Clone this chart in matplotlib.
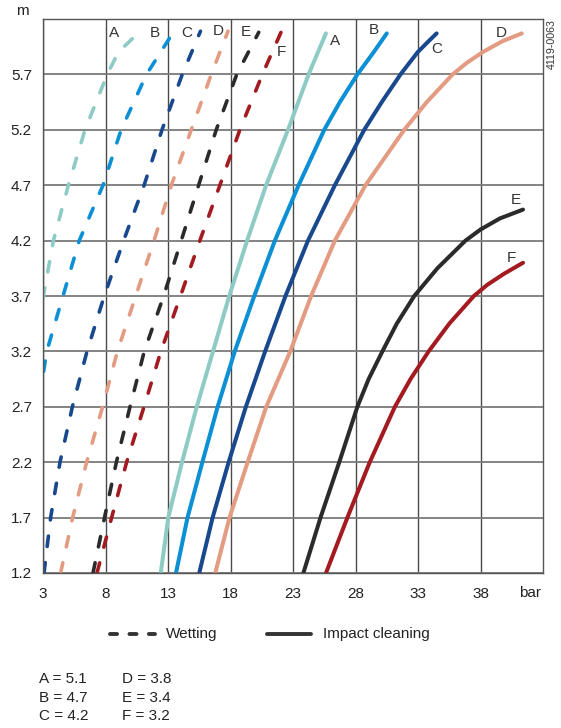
import matplotlib
matplotlib.use("Agg")
import matplotlib.pyplot as plt
from matplotlib.lines import Line2D

plt.rcParams['font.family'] = ['Liberation Sans', 'DejaVu Sans']

# nozzle names and sizes
curve_names = ['A', 'B', 'C', 'D', 'E', 'F']
nozzle_sizes = ['5.1', '4.7', '4.2', '3.8', '3.4', '3.2']
curve_colors = ['#8ecbc5', '#0b8fd5', '#18488d', '#e39b82', '#2b2b2b', '#a31a20']

grid_m = [1.2, 1.7, 2.2, 2.7, 3.2, 3.7, 4.2, 4.7, 5.2, 5.7]

# Wetting (dashed): pressure in bar vs distance in m
wet_A_bar = [3.0, 3.83, 5.03, 6.36, 8.14, 9.02, 10.22]
wet_A_m = [3.68, 4.2, 4.7, 5.2, 5.7, 5.9, 6.03]
wet_B_bar = [3.05, 3.3, 4.6, 5.9, 7.8, 9.25, 11.28, 13.42]
wet_B_m = [3.02, 3.2, 3.7, 4.2, 4.7, 5.2, 5.7, 6.08]
wet_C_bar = [3.08, 3.61, 4.36, 5.35, 6.52, 7.9, 9.45, 11.09, 12.52, 14.14, 15.6]
wet_C_m = grid_m + [6.09]
wet_D_bar = [4.41, 5.37, 6.49, 7.77, 8.95, 10.42, 11.88, 13.27, 14.86, 16.46, 17.8]
wet_D_m = grid_m + [6.09]
wet_E_bar = [7.0, 7.92, 8.87, 9.96, 11.1, 12.65, 14.06, 15.45, 16.86, 18.5, 20.26]
wet_E_m = grid_m + [6.08]
wet_F_bar = [7.32, 8.49, 9.69, 11.08, 12.43, 14.0, 15.55, 17.15, 18.75, 20.55, 22.04]
wet_F_m = grid_m + [6.08]

# Impact cleaning (solid)
imp_A_bar = [12.42, 13.02, 14.12, 15.3, 16.6, 17.9, 19.33, 20.85, 22.6, 24.25, 25.63]
imp_A_m = grid_m + [6.07]
imp_B_bar = [13.64, 14.56, 15.75, 16.97, 18.34, 19.9, 21.55, 23.45, 25.5, 26.75, 28.15, 29.45, 30.5]
imp_B_m = [1.2, 1.7, 2.2, 2.7, 3.2, 3.7, 4.2, 4.7, 5.2, 5.45, 5.7, 5.9, 6.07]
imp_C_bar = [15.5, 16.57, 17.85, 19.23, 20.77, 22.4, 24.2, 26.35, 28.7, 30.1, 31.6, 32.97, 33.85, 34.49]
imp_C_m = [1.2, 1.7, 2.2, 2.7, 3.2, 3.7, 4.2, 4.7, 5.2, 5.45, 5.7, 5.9, 6.0, 6.07]
imp_D_bar = [16.78, 17.92, 19.37, 20.86, 22.78, 24.45, 26.35, 28.8, 31.9, 33.7, 35.77,
             36.85, 38.16, 39.76, 41.3]
imp_D_m = [1.2, 1.7, 2.2, 2.7, 3.2, 3.7, 4.2, 4.7, 5.2, 5.45, 5.7, 5.8, 5.9, 6.0, 6.07]
imp_E_bar = [23.83, 25.2, 26.7, 28.15, 29.05, 30.15, 31.3, 32.7, 34.55, 36.8, 38.0, 39.55, 41.4]
imp_E_m = [1.2, 1.7, 2.2, 2.7, 2.95, 3.2, 3.45, 3.7, 3.95, 4.2, 4.3, 4.4, 4.48]
imp_F_bar = [25.64, 27.35, 29.14, 31.15, 32.4, 33.85, 35.5, 37.47, 38.53, 39.87, 41.4]
imp_F_m = [1.2, 1.7, 2.2, 2.7, 2.95, 3.2, 3.45, 3.7, 3.8, 3.9, 4.0]

x_ticks = [3, 8, 13, 18, 23, 28, 33, 38]

wet_bar = [wet_A_bar, wet_B_bar, wet_C_bar, wet_D_bar, wet_E_bar, wet_F_bar]
wet_m = [wet_A_m, wet_B_m, wet_C_m, wet_D_m, wet_E_m, wet_F_m]
imp_bar = [imp_A_bar, imp_B_bar, imp_C_bar, imp_D_bar, imp_E_bar, imp_F_bar]
imp_m = [imp_A_m, imp_B_m, imp_C_m, imp_D_m, imp_E_m, imp_F_m]

# label spots for the curve letters
wet_label_xy = [(8.68, 6.07), (11.98, 6.07), (14.54, 6.07), (17.0, 6.09), (19.23, 6.08), (22.08, 5.9)]
imp_label_xy = [(26.34, 6.0), (29.46, 6.1), (34.47, 5.93), (39.69, 6.07), (40.86, 4.57), (40.46, 4.04)]

W, H = 561, 728
fig = plt.figure(figsize=(W / 100, H / 100), dpi=100)
ax = fig.add_axes([43 / W, (H - 573) / H, 500 / W, 554 / H])

ax.set_xlim(3, 43)
ax.set_ylim(1.2, 6.2)
ax.set_xticks(x_ticks)
ax.set_yticks(grid_m)
ax.set_xticklabels([str(t) for t in x_ticks])
ax.set_yticklabels([str(t) for t in grid_m])
ax.tick_params(length=0, labelsize=11, colors='#222222')
ax.tick_params(axis='x', pad=10)
ax.tick_params(axis='y', pad=8)
ax.xaxis.grid(True, color='#4a4a4a', linewidth=1.0)
ax.yaxis.grid(True, color='#7a7a7a', linewidth=1.3)
ax.set_axisbelow(True)
for sp in ax.spines.values():
    sp.set_color('#555555')
    sp.set_linewidth(1.0)

for i in range(6):
    ax.plot(wet_bar[i], wet_m[i], color=curve_colors[i], lw=2.6,
            linestyle=(0, (2.9, 4.5)), dash_capstyle='round', dash_joinstyle='round')
    ax.plot(imp_bar[i], imp_m[i], color=curve_colors[i], lw=2.9,
            solid_capstyle='round', solid_joinstyle='round')
    ax.text(wet_label_xy[i][0], wet_label_xy[i][1], curve_names[i],
            fontsize=11, color='#333333', ha='center', va='center')
    ax.text(imp_label_xy[i][0], imp_label_xy[i][1], curve_names[i],
            fontsize=11, color='#333333', ha='center', va='center')

# axis units
fig.text(22 / W, 1 - 11 / H, 'm', fontsize=11, color='#222222', ha='center', va='center')
fig.text(530 / W, 1 - 593 / H, 'bar', fontsize=11, color='#222222', ha='center', va='center')
fig.text(552 / W, 1 - 44.5 / H, '4119-0063', fontsize=7.7, color='#333333',
         ha='center', va='center', rotation=90)

# legend
ly = 1 - 634 / H
fig.add_artist(Line2D([109.5 / W, 154.5 / W], [ly, ly], color='#333333', lw=2.8,
                      linestyle=(0, (1.82, 3.18)), dash_capstyle='round'))
fig.add_artist(Line2D([267 / W, 311 / W], [ly, ly], color='#333333', lw=2.8,
                      solid_capstyle='round'))
fig.text(166 / W, ly, 'Wetting', fontsize=11, color='#222222', va='center')
fig.text(323 / W, ly, 'Impact cleaning', fontsize=11, color='#222222', va='center')

# nozzle size key
rows = [683.3, 702, 720]
for i in range(6):
    col_x = 39 if i < 3 else 122
    fig.text(col_x / W, 1 - rows[i % 3] / H, curve_names[i] + ' = ' + nozzle_sizes[i],
             fontsize=11, color='#222222', va='baseline')

fig.savefig('out.png', dpi=100)
